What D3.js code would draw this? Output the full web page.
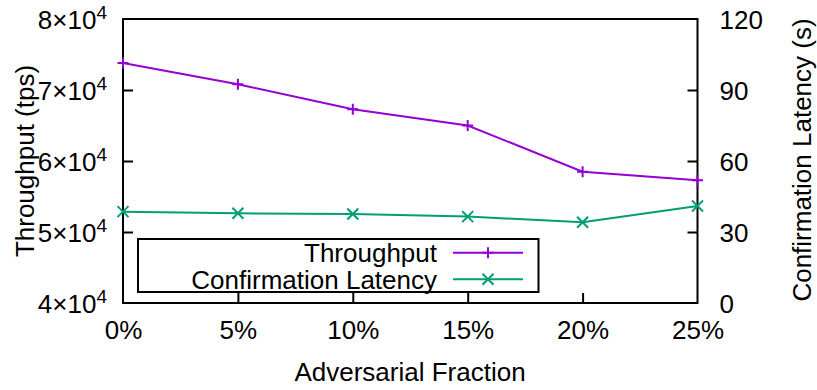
<!DOCTYPE html>
<html>
<head>
<meta charset="utf-8">
<script src="https://cdn.jsdelivr.net/npm/d3@7"></script>
<style>
  html, body { margin: 0; padding: 0; background: #fff; }
  svg { display: block; font-family: "Liberation Sans", Arial, Helvetica, sans-serif; }
</style>
</head>
<body>
<svg id="chart" width="817" height="390"></svg>
<script>
// Adversarial fraction on the x axis
const fractions = ["0%", "5%", "10%", "15%", "20%", "25%"];
const fractionValues = [0, 5, 10, 15, 20, 25];
// Throughput (tps), left axis
const throughput = [73800, 70800, 67300, 65000, 58500, 57300];
// Confirmation latency (s), right axis
const latency = [38.6, 37.9, 37.6, 36.5, 34.1, 41.0];
// Tick values
const yLeftTicks = [40000, 50000, 60000, 70000, 80000];
const yRightTicks = [0, 30, 60, 90, 120];
const seriesNames = ["Throughput", "Confirmation Latency"];

const svg = d3.select("#chart");
const m = { left: 123, right: 697.5, top: 19, bottom: 303 };
const FS = 26;
const FONT = "\"Liberation Sans\", Arial, Helvetica, sans-serif";
const purple = "#9400d3", green = "#009e73";

const x = d3.scaleLinear().domain([0, 25]).range([m.left, m.right]);
const yL = d3.scaleLinear().domain([40000, 80000]).range([m.bottom, m.top]);
const yR = d3.scaleLinear().domain([0, 120]).range([m.bottom, m.top]);

// Axes with inward ticks
const gx = svg.append("g").attr("transform", `translate(0,${m.bottom})`)
  .call(d3.axisBottom(x).tickValues(fractionValues).tickSizeInner(-10).tickSizeOuter(0)
    .tickFormat((d, i) => fractions[i]));
gx.selectAll("text").attr("y", 18).attr("dy", "0.71em");

const gyL = svg.append("g").attr("transform", `translate(${m.left},0)`)
  .call(d3.axisLeft(yL).tickValues(yLeftTicks).tickSizeInner(-10).tickSizeOuter(0));
gyL.selectAll("text").attr("x", -16).attr("dy", "0.36em").text(null).each(function (d) {
  const t = d3.select(this);
  t.append("tspan").text(`${d / 10000}×10`);
  t.append("tspan").attr("font-size", 19).attr("dy", "-0.5em").text("4");
});

const gyR = svg.append("g").attr("transform", `translate(${m.right},0)`)
  .call(d3.axisRight(yR).tickValues(yRightTicks).tickSizeInner(-10).tickSizeOuter(0));
gyR.selectAll("text").attr("x", 22).attr("dy", "0.36em");

[gx, gyL, gyR].forEach(g => {
  g.select(".domain").remove();
  g.selectAll("line").attr("stroke", "#000").attr("stroke-width", 2);
  g.selectAll("text").attr("font-size", FS).attr("fill", "#000").attr("font-family", FONT);
});
// ticks on the frame corners are covered by the frame itself
gx.selectAll(".tick line").filter(d => d === 0 || d === 25).remove();
gyL.selectAll(".tick line").filter(d => d === 40000 || d === 80000).remove();
gyR.selectAll(".tick line").filter(d => d === 0 || d === 120).remove();

// Frame
svg.append("rect")
  .attr("x", m.left).attr("y", m.top)
  .attr("width", m.right - m.left).attr("height", m.bottom - m.top)
  .attr("fill", "none").attr("stroke", "#000").attr("stroke-width", 2);

// Axis titles
svg.append("text").attr("x", 410).attr("y", 381)
  .attr("text-anchor", "middle").attr("font-size", FS).text("Adversarial Fraction");
svg.append("text").attr("transform", "translate(34,161) rotate(-90)")
  .attr("text-anchor", "middle").attr("font-size", FS).text("Throughput (tps)");
svg.append("text").attr("transform", "translate(811,160) rotate(-90)")
  .attr("text-anchor", "middle").attr("font-size", FS).text("Confirmation Latency (s)");

// Marker shapes
function plus(g, cx, cy, color) {
  const s = 5.5;
  g.append("path").attr("d", `M${cx - s},${cy}H${cx + s}M${cx},${cy - s}V${cy + s}`)
    .attr("stroke", color).attr("stroke-width", 2).attr("fill", "none");
}
function cross(g, cx, cy, color) {
  const s = 5.5;
  g.append("path").attr("d", `M${cx - s},${cy - s}L${cx + s},${cy + s}M${cx - s},${cy + s}L${cx + s},${cy - s}`)
    .attr("stroke", color).attr("stroke-width", 2).attr("fill", "none");
}

// Series
const lineL = d3.line().x((d, i) => x(fractionValues[i])).y(d => yL(d));
const lineR = d3.line().x((d, i) => x(fractionValues[i])).y(d => yR(d));
const plot = svg.append("g");
plot.append("path").datum(throughput).attr("d", lineL)
  .attr("fill", "none").attr("stroke", purple).attr("stroke-width", 2);
throughput.forEach((v, i) => plus(plot, x(fractionValues[i]), yL(v), purple));
plot.append("path").datum(latency).attr("d", lineR)
  .attr("fill", "none").attr("stroke", green).attr("stroke-width", 2);
latency.forEach((v, i) => cross(plot, x(fractionValues[i]), yR(v), green));

// Legend
const lg = svg.append("g");
lg.append("rect").attr("x", 138).attr("y", 239).attr("width", 400.5).attr("height", 53)
  .attr("fill", "#fff").attr("stroke", "#000").attr("stroke-width", 2);
const rows = [{ y: 252.7, color: purple, mark: plus }, { y: 279.3, color: green, mark: cross }];
rows.forEach((r, i) => {
  lg.append("text").attr("x", 437).attr("y", r.y).attr("dy", "0.36em")
    .attr("text-anchor", "end").attr("font-size", FS).text(seriesNames[i]);
  lg.append("line").attr("x1", 453).attr("x2", 523).attr("y1", r.y).attr("y2", r.y)
    .attr("stroke", r.color).attr("stroke-width", 2);
  r.mark(lg, 488, r.y, r.color);
});
</script>
</body>
</html>
